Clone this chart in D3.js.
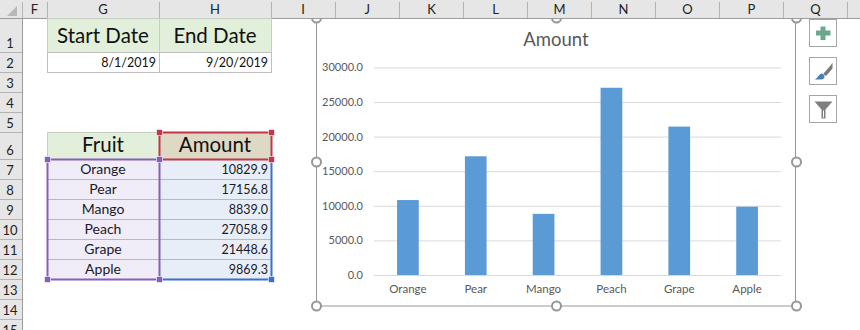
<!DOCTYPE html>
<html>
<head>
<meta charset="utf-8">
<script src="https://cdn.jsdelivr.net/npm/d3@7"></script>
<style>
  html, body { margin: 0; padding: 0; background: #fff; overflow: hidden; }
  text { font-family: Lato, "Open Sans", sans-serif; }
</style>
</head>
<body>
<div id="sheet"></div>
<script>
var fruits = ["Orange", "Pear", "Mango", "Peach", "Grape", "Apple"];
var amounts = [10829.9, 17156.8, 8839.0, 27058.9, 21448.6, 9869.3];
var yTicks = [0, 5000, 10000, 15000, 20000, 25000, 30000];
var columnLetters = ["F", "G", "H", "I", "J", "K", "L", "M", "N", "O", "P", "Q"];
var rowLabels = ["1", "2", "3", "4", "5", "6", "7", "8", "9", "10", "11", "12", "13", "14", "15"];
var dateHeaders = ["Start Date", "End Date"];
var dateValues = ["8/1/2019", "9/20/2019"];
var tableHeaders = ["Fruit", "Amount"];
var chartTitle = "Amount";

// sheet grid, in pixels
var colEdges = [22, 47, 159, 271, 335, 399.5, 463.5, 527.5, 591.5, 655.5, 719.5, 783.5, 847.5];
var rowEdges = [18, 52, 72, 92, 112, 132, 159, 179, 199, 219, 239, 259, 279, 299, 319, 339];
var fmt = d3.format(".1f");

var svg = d3.select("#sheet").append("svg")
    .attr("width", 860)
    .attr("height", 330)
    .style("display", "block");

// column header strip
svg.append("rect").attr("width", 860).attr("height", 18).attr("fill", "#e6e6e6");
svg.append("rect").attr("y", 18).attr("width", 22).attr("height", 312).attr("fill", "#e6e6e6");
svg.append("path").attr("d", d3.line()([[7, 16], [17, 16], [17, 6]]) + "Z").attr("fill", "#b8b8b8");

svg.selectAll(".colSep")
    .data(colEdges)
    .enter().append("line")
    .attr("class", "colSep")
    .attr("x1", function(d) { return Math.floor(d) + 0.5; })
    .attr("x2", function(d) { return Math.floor(d) + 0.5; })
    .attr("y1", 2)
    .attr("y2", 18)
    .attr("stroke", "#b4b4b4");

svg.selectAll(".colLabel")
    .data(columnLetters)
    .enter().append("text")
    .attr("class", "colLabel")
    .attr("x", function(d, i) { return (colEdges[i] + colEdges[i + 1]) / 2; })
    .attr("y", 14)
    .attr("text-anchor", "middle")
    .style("font-size", "13px")
    .style("fill", "#222")
    .text(function(d) { return d; });

svg.selectAll(".rowSep")
    .data(rowEdges)
    .enter().append("line")
    .attr("class", "rowSep")
    .attr("x1", 0)
    .attr("x2", 22)
    .attr("y1", function(d) { return d + 0.5; })
    .attr("y2", function(d) { return d + 0.5; })
    .attr("stroke", "#b4b4b4");

svg.selectAll(".rowLabel")
    .data(rowLabels)
    .enter().append("text")
    .attr("class", "rowLabel")
    .attr("x", 10)
    .attr("y", function(d, i) { return rowEdges[i + 1] - 4; })
    .attr("text-anchor", "middle")
    .style("font-size", "13px")
    .style("fill", "#222")
    .text(function(d) { return d; });

svg.append("line").attr("x1", 0).attr("x2", 860).attr("y1", 18.5).attr("y2", 18.5).attr("stroke", "#9c9c9c");
svg.append("line").attr("x1", 22.5).attr("x2", 22.5).attr("y1", 18).attr("y2", 330).attr("stroke", "#9c9c9c");

// date block
dateHeaders.forEach(function(d, i) {
    var x0 = colEdges[1 + i], x1 = colEdges[2 + i];
    svg.append("rect").attr("x", x0 + 0.5).attr("y", rowEdges[0] + 0.5).attr("width", x1 - x0).attr("height", rowEdges[1] - rowEdges[0])
        .attr("fill", "#e2efda").attr("stroke", "#c6cfc0");
    svg.append("rect").attr("x", x0 + 0.5).attr("y", rowEdges[1] + 0.5).attr("width", x1 - x0).attr("height", rowEdges[2] - rowEdges[1])
        .attr("fill", "#fff").attr("stroke", "#bfbfbf");
    svg.append("text").attr("x", (x0 + x1) / 2).attr("y", 43).attr("text-anchor", "middle")
        .style("font-size", "20.5px").style("fill", "#111").text(d);
    svg.append("text").attr("x", x1 - 3).attr("y", 67).attr("text-anchor", "end")
        .style("font-size", "12.5px").style("fill", "#111").text(dateValues[i]);
});

// fruit table
var fruitFill = ["#e2efda", "#ddd9c4"];
tableHeaders.forEach(function(d, i) {
    var x0 = colEdges[1 + i], x1 = colEdges[2 + i];
    svg.append("rect").attr("x", x0 + 0.5).attr("y", rowEdges[5] + 0.5).attr("width", x1 - x0).attr("height", rowEdges[6] - rowEdges[5])
        .attr("fill", fruitFill[i]).attr("stroke", "#c6cfc0");
    svg.append("text").attr("x", (x0 + x1) / 2).attr("y", 152).attr("text-anchor", "middle")
        .style("font-size", "20.5px").style("fill", "#111").text(d);
});
svg.append("rect").attr("x", colEdges[1]).attr("y", rowEdges[6]).attr("width", 112).attr("height", 120).attr("fill", "#f0edf8");
svg.append("rect").attr("x", colEdges[2]).attr("y", rowEdges[6]).attr("width", 112).attr("height", 120).attr("fill", "#e7eef8");

var tableRows = svg.selectAll(".tableRow")
    .data(fruits)
    .enter().append("g")
    .attr("class", "tableRow");

tableRows.append("line")
    .attr("x1", colEdges[1])
    .attr("x2", colEdges[3])
    .attr("y1", function(d, i) { return rowEdges[7 + i] + 0.5; })
    .attr("y2", function(d, i) { return rowEdges[7 + i] + 0.5; })
    .attr("stroke", "#b8b8c0");

tableRows.append("text")
    .attr("x", (colEdges[1] + colEdges[2]) / 2)
    .attr("y", function(d, i) { return rowEdges[7 + i] - 5; })
    .attr("text-anchor", "middle")
    .style("font-size", "14px")
    .style("fill", "#1a1a2a")
    .text(function(d) { return d; });

tableRows.append("text")
    .attr("x", colEdges[3] - 3)
    .attr("y", function(d, i) { return rowEdges[7 + i] - 5; })
    .attr("text-anchor", "end")
    .style("font-size", "12.5px")
    .style("fill", "#1a1a2a")
    .text(function(d, i) { return fmt(amounts[i]); });

// formula range outlines
function rangeLine(x0, y0, x1, y1, color) {
    svg.append("line").attr("x1", x0).attr("y1", y0).attr("x2", x1).attr("y2", y1)
        .attr("stroke", color).attr("stroke-width", 2);
}
function handle(x, y, color) {
    svg.append("rect").attr("x", x - 3).attr("y", y - 3).attr("width", 6).attr("height", 6)
        .attr("fill", color).attr("stroke", "#fff").attr("stroke-width", 0.6);
}
var red = "#c0374a", purple = "#8560b8", blue = "#3a70c8";
rangeLine(271.5, 159.5, 271.5, 279.5, blue);
rangeLine(159.5, 279.5, 271.5, 279.5, blue);
rangeLine(159.5, 132.5, 271.5, 132.5, red);
rangeLine(159.5, 132.5, 159.5, 159.5, red);
rangeLine(271.5, 132.5, 271.5, 159.5, red);
rangeLine(159.5, 159.5, 271.5, 159.5, red);
rangeLine(47.5, 159.5, 159.5, 159.5, purple);
rangeLine(47.5, 159.5, 47.5, 279.5, purple);
rangeLine(159.5, 159.5, 159.5, 279.5, purple);
rangeLine(47.5, 279.5, 159.5, 279.5, purple);
handle(159.5, 132.5, red);
handle(271.5, 132.5, red);
handle(271.5, 159.5, red);
handle(47.5, 159.5, purple);
handle(159.5, 159.5, purple);
handle(47.5, 279.5, purple);
handle(159.5, 279.5, purple);
handle(271.5, 279.5, blue);

// chart
var frame = { left: 316, right: 796, top: 18, bottom: 306 };
var plot = { left: 374, right: 781, top: 67.4, bottom: 275 };

svg.append("rect")
    .attr("x", frame.left)
    .attr("y", frame.top + 1)
    .attr("width", frame.right - frame.left)
    .attr("height", frame.bottom - frame.top - 1)
    .attr("fill", "#fff");

var x = d3.scaleBand()
    .domain(fruits)
    .range([plot.left, plot.right])
    .paddingInner(0.68)
    .paddingOuter(0.34);

var y = d3.scaleLinear()
    .domain([0, 30000])
    .range([plot.bottom, plot.top]);

var yAxis = d3.axisLeft(y)
    .tickValues(yTicks)
    .tickFormat(fmt)
    .tickSize(-(plot.right - plot.left))
    .tickPadding(11);

var yG = svg.append("g")
    .attr("class", "y axis")
    .attr("transform", "translate(" + plot.left + ",0)")
    .call(yAxis);
yG.select(".domain").remove();
yG.selectAll("line").attr("stroke", "#d9d9d9");
yG.selectAll("text")
    .style("font-family", "Lato, sans-serif")
    .style("font-size", "11px")
    .style("fill", "#595959");

var xAxis = d3.axisBottom(x)
    .tickSize(0)
    .tickPadding(10);

var xG = svg.append("g")
    .attr("class", "x axis")
    .attr("transform", "translate(0," + plot.bottom + ")")
    .call(xAxis);
xG.select(".domain").remove();
xG.selectAll("text")
    .style("font-family", "Lato, sans-serif")
    .style("font-size", "11.5px")
    .style("fill", "#595959");

svg.selectAll(".bar")
    .data(amounts)
    .enter().append("rect")
    .attr("class", "bar")
    .attr("x", function(d, i) { return x(fruits[i]); })
    .attr("y", function(d) { return y(d); })
    .attr("width", x.bandwidth())
    .attr("height", function(d) { return plot.bottom - y(d); })
    .attr("fill", "#5b9bd5");

svg.append("text")
    .attr("x", (frame.left + frame.right) / 2)
    .attr("y", 46)
    .attr("text-anchor", "middle")
    .style("font-size", "18.5px")
    .style("fill", "#595959")
    .text(chartTitle);

// selection frame and its handles
svg.append("rect")
    .attr("x", frame.left + 0.5)
    .attr("y", frame.top)
    .attr("width", frame.right - frame.left - 1)
    .attr("height", frame.bottom - frame.top)
    .attr("fill", "none")
    .attr("stroke", "#979797");

var midX = (frame.left + frame.right) / 2, midY = (frame.top + frame.bottom) / 2;
var handles = [
    [frame.left, frame.top], [midX, frame.top], [frame.right, frame.top],
    [frame.left, midY], [frame.right, midY],
    [frame.left, frame.bottom], [midX, frame.bottom], [frame.right, frame.bottom]
];
svg.selectAll(".sizer")
    .data(handles)
    .enter().append("circle")
    .attr("class", "sizer")
    .attr("cx", function(d) { return d[0] + 0.5; })
    .attr("cy", function(d) { return d[1]; })
    .attr("r", 4.5)
    .attr("fill", "#fff")
    .attr("stroke", "#979797")
    .attr("stroke-width", 2);

// keep the header strip over the top handles
svg.append("rect").attr("x", 300).attr("width", 510).attr("height", 18).attr("fill", "#e6e6e6");
svg.append("line").attr("x1", 300).attr("x2", 810).attr("y1", 18.5).attr("y2", 18.5).attr("stroke", "#9c9c9c");
svg.selectAll(".colSepTop")
    .data(colEdges.slice(4, 12))
    .enter().append("line")
    .attr("x1", function(d) { return Math.floor(d) + 0.5; })
    .attr("x2", function(d) { return Math.floor(d) + 0.5; })
    .attr("y1", 2)
    .attr("y2", 18)
    .attr("stroke", "#b4b4b4");
svg.selectAll(".colLabelTop")
    .data(columnLetters.slice(3, 11))
    .enter().append("text")
    .attr("x", function(d, i) { return (colEdges[i + 3] + colEdges[i + 4]) / 2; })
    .attr("y", 14)
    .attr("text-anchor", "middle")
    .style("font-size", "13px")
    .style("fill", "#222")
    .text(function(d) { return d; });

// chart buttons
var buttons = [19, 57, 95];
var buttonG = svg.selectAll(".chartButton")
    .data(buttons)
    .enter().append("g")
    .attr("class", "chartButton")
    .attr("transform", function(d) { return "translate(809.5," + (d + 0.5) + ")"; });
buttonG.append("rect")
    .attr("width", 27)
    .attr("height", 27)
    .attr("fill", "#fff")
    .attr("stroke", "#a6a6a6");

d3.select(buttonG.nodes()[0]).append("path")
    .attr("d", "M11,7H16V11H21V16H16V20.5H11V16H6.500V11H11Z")
    .attr("fill", "#6da78f");

var brush = d3.select(buttonG.nodes()[1]);
brush.append("path")
    .attr("d", "M14,16L21,8L23,5V11L17,18L15,18Z")
    .attr("fill", "#7a7a7a");
brush.append("path")
    .attr("d", "M5,22C8,21 9,17 12,16C14,16 15,18 15,20C14,22 12,22 10,22Z")
    .attr("fill", "#4a7fb8");

d3.select(buttonG.nodes()[2]).append("path")
    .attr("d", "M5,6H23L16,14V23H12V14Z")
    .attr("fill", "#7f7f7f");
d3.select(buttonG.nodes()[2]).append("path")
    .attr("d", "M13.5,15V22H14.500V15Z")
    .attr("fill", "#fff");
</script>
</body>
</html>
